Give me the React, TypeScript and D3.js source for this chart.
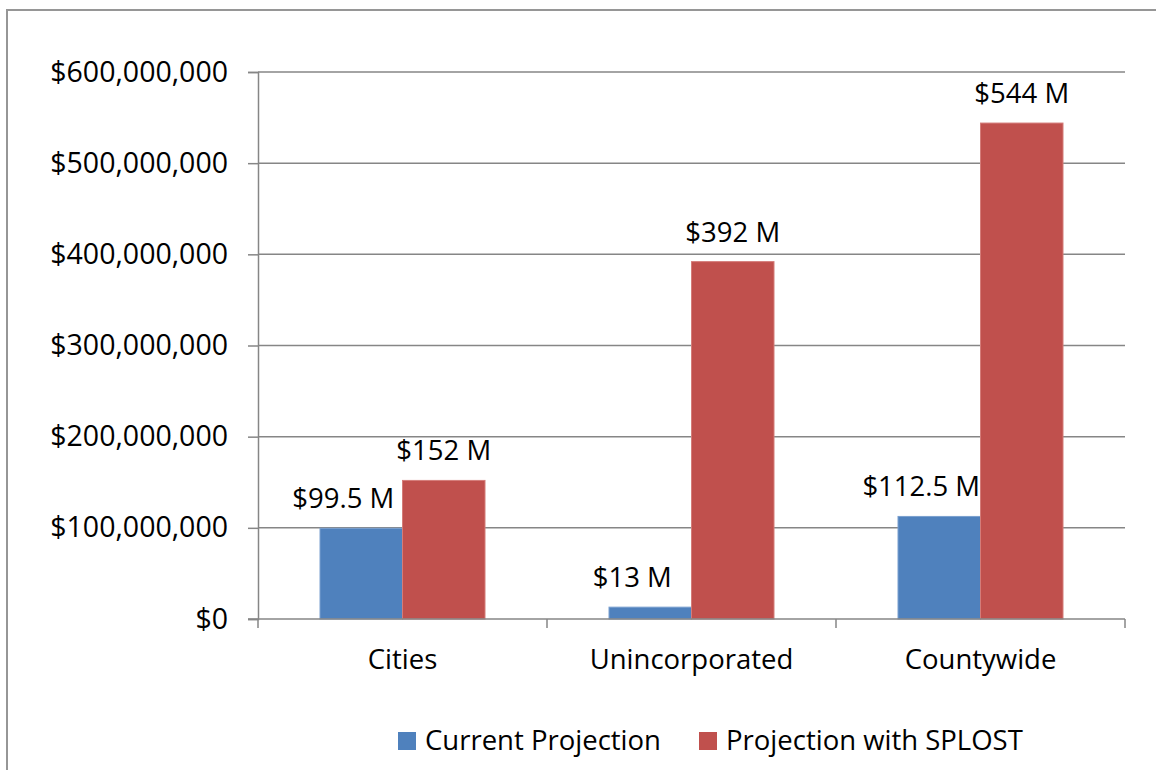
import { useEffect, useRef } from 'react';
import * as d3 from 'd3';

const categories = ['Cities', 'Unincorporated', 'Countywide'];
const seriesNames = ['Current Projection', 'Projection with SPLOST'];
const currentProjection = [99.5e6, 13e6, 112.5e6];
const splostProjection = [152e6, 392e6, 544e6];
const currentLabels = ['$99.5 M', '$13 M', '$112.5 M'];
const splostLabels = ['$152 M', '$392 M', '$544 M'];
const yTicks = [0, 100e6, 200e6, 300e6, 400e6, 500e6, 600e6];

const colors = ['#4F81BD', '#C0504D'];
const font = '"Open Sans", sans-serif';

function App() {
  const ref = useRef<SVGSVGElement>(null);

  useEffect(() => {
    const svg = d3.select(ref.current);
    svg.selectAll('*').remove();

    const width = 1156;
    const height = 770;
    const left = 258, right = 1125, top = 72, bottom = 619;

    svg.attr('width', width).attr('height', height);

    // outer chart frame (runs off the right/bottom edge)
    svg.append('rect')
      .attr('x', 7).attr('y', 10)
      .attr('width', 1300).attr('height', 900)
      .attr('fill', '#fff')
      .attr('stroke', '#969696')
      .attr('stroke-width', 2);

    const x = d3.scaleBand().domain(categories).range([left, right]).paddingInner(0).paddingOuter(0);
    const inner = d3.scaleBand().domain(seriesNames).range([62, x.bandwidth() - 62]);
    const y = d3.scaleLinear().domain([0, 600e6]).range([bottom, top]);

    // gridlines
    svg.append('g').selectAll('line')
      .data(yTicks.slice(1))
      .enter().append('line')
      .attr('x1', left).attr('x2', right)
      .attr('y1', (d) => y(d)).attr('y2', (d) => y(d))
      .attr('stroke', '#868686').attr('stroke-width', 1.5);

    // y axis
    const yAxis = d3.axisLeft(y).tickValues(yTicks).tickSize(10).tickPadding(20)
      .tickFormat((d) => '$' + d3.format(',')(d as number));
    const gy = svg.append('g').attr('transform', `translate(${left},0)`).call(yAxis);
    gy.selectAll('text').style('font-family', font).style('font-size', '28.5px').attr('fill', '#000');
    gy.selectAll('.domain, .tick line').attr('stroke', '#868686').attr('stroke-width', 1.5);

    // bars
    const rows = categories.map((c, i) => ({
      cat: c,
      vals: [currentProjection[i], splostProjection[i]],
      labels: [currentLabels[i], splostLabels[i]],
    }));

    const groups = svg.append('g').selectAll('g')
      .data(rows).enter().append('g')
      .attr('transform', (d) => `translate(${x(d.cat)},0)`);

    groups.selectAll('rect')
      .data((d) => d.vals.map((v, j) => ({ v, j })))
      .enter().append('rect')
      .attr('x', (d) => inner(seriesNames[d.j])!)
      .attr('y', (d) => y(d.v))
      .attr('width', inner.bandwidth())
      .attr('height', (d) => bottom - y(d.v))
      .attr('fill', (d) => colors[d.j])
      .attr('stroke', (d) => (d.j === 0 ? '#7aa0cf' : '#d47c79'))
      .attr('stroke-width', 1);

    groups.selectAll('text')
      .data((d) => d.vals.map((v, j) => ({ v, j, label: d.labels[j] })))
      .enter().append('text')
      .attr('x', (d) => inner(seriesNames[d.j])! + inner.bandwidth() / 2 - (d.j === 0 ? 18 : 0))
      .attr('y', (d) => y(d.v) - 20)
      .attr('text-anchor', 'middle')
      .style('font-family', font).style('font-size', '27.5px')
      .text((d) => d.label);

    // x axis
    const xAxis = d3.axisBottom(x).tickSize(0).tickPadding(30);
    const gx = svg.append('g').attr('transform', `translate(0,${bottom})`).call(xAxis);
    gx.selectAll('text').style('font-family', font).style('font-size', '27.5px').attr('fill', '#000');
    gx.select('.domain').remove();
    gx.append('line').attr('x1', left - 10).attr('x2', right).attr('y1', 0).attr('y2', 0)
      .attr('stroke', '#868686').attr('stroke-width', 1.5);
    gx.selectAll('line.sep')
      .data([...categories.map((c) => x(c)!), right])
      .enter().append('line').attr('class', 'sep')
      .attr('x1', (d) => d).attr('x2', (d) => d)
      .attr('y1', 0).attr('y2', 9)
      .attr('stroke', '#868686').attr('stroke-width', 1.5);

    // legend
    const legendX = [398, 699];
    const legend = svg.append('g').selectAll('g')
      .data(seriesNames).enter().append('g')
      .attr('transform', (_, i) => `translate(${legendX[i]},732)`);
    legend.append('rect').attr('width', 18).attr('height', 18).attr('fill', (_, i) => colors[i]);
    legend.append('text').attr('x', 27).attr('y', 18)
      .style('font-family', font).style('font-size', '27.5px')
      .text((d) => d);
  }, []);

  return <svg ref={ref} style={{ position: 'absolute', left: 0, top: 0 }}></svg>;
}

export default App;
